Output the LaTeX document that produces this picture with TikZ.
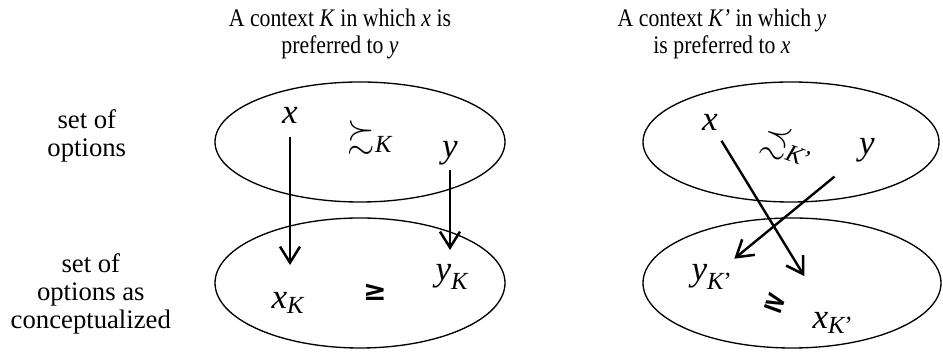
\documentclass[tikz,border=0pt]{standalone}
\usepackage{amsmath}
\usepackage{amssymb}
\usepackage{fontspec}
\setmainfont{Liberation Serif}
\newfontfamily\serifnorm{Liberation Serif}
\newfontfamily\titlefont[FakeStretch=0.86]{Liberation Serif}
\newfontfamily\relfont{DejaVu Sans}
\usetikzlibrary{arrows.meta}

\tikzset{
  title/.style={align=center, font=\titlefont\fontsize{18}{19.5}\selectfont},
  side/.style={align=center, font=\serifnorm\fontsize{19}{20}\selectfont},
  letter/.style={inner sep=1pt, font=\serifnorm\fontsize{25}{30}\selectfont},
  geq/.style={inner sep=0pt, font=\relfont\bfseries\fontsize{20}{24}\selectfont},
  arr/.style={line width=1.7pt, -{Straight Barb[length=4mm,width=5mm,line width=1.8pt]}},
  oval/.style={line width=0.95pt}
}

\begin{document}
\begin{tikzpicture}
\useasboundingbox (0,0) rectangle (23.575,8.9);
% titles
\node[title] (tl) at (8.5,8.05) {A context \textit{K} in which \textit{x} is\\preferred to \textit{y}};
\node[title] (tr) at (18.05,8.05) {A context \textit{K’} in which \textit{y}\\is preferred to \textit{x}};
% row labels
\node[side] (opt) at (2.17,5.5) {set of\\options};
\node[side] (con) at (2.27,1.55) {set of\\options as\\conceptualized};

% left context K
\draw[oval] (9.0,5.35) ellipse (3.625 and 1.5);
\draw[oval] (9.0,1.825) ellipse (3.625 and 1.625);
\node[letter] (x) at (7.25,6.025) {$\textit{x}$};
\node[letter] (rk) at (9.25,5.45) {$\succsim_{\textit{K}}$};
\node[letter] (y) at (11.25,5.075) {$\textit{y}$};
\node[letter] (xk) at (7.2,1.325) {$\textit{x}_{\textit{K}}$};
\node[geq] (gk) at (9.375,1.6) {≥};
\node[letter] (yk) at (11.3,1.975) {$\textit{y}_{\textit{K}}$};
\draw[arr, shorten <=0.55cm, shorten >=0.95cm] (x.center) -- (x.center |- xk.center);
\draw[arr, shorten <=0.425cm, shorten >=0.675cm] (y.center) -- (y.center |- yk.center);

% right context K'
\draw[oval] (19.775,5.35) ellipse (3.7 and 1.5);
\draw[oval] (19.8,1.825) ellipse (3.725 and 1.625);
\node[letter] (x2) at (17.75,5.85) {$\textit{x}$};
\node[letter, inner sep=0pt, rotate=-20] (rk2) at (19.7,5.25) {$\precsim_{\textit{K}\text{’}}$};
\node[letter] (y2) at (21.675,5.15) {$\textit{y}$};
\node[letter] (yk2) at (17.8,1.975) {$\textit{y}_{\textit{K}\text{’}}$};
\node[geq, rotate=-20] (gk2) at (19.375,1.325) {≥};
\node[letter] (xk2) at (20.825,0.825) {$\textit{x}_{\textit{K}\text{’}}$};
\draw[arr, shorten <=0.55cm, shorten >=1.375cm] (x2.center) -- (xk2.center);
\draw[arr, shorten <=1.05cm, shorten >=0.72cm] (y2.center) -- (yk2.center);
\end{tikzpicture}
\end{document}
